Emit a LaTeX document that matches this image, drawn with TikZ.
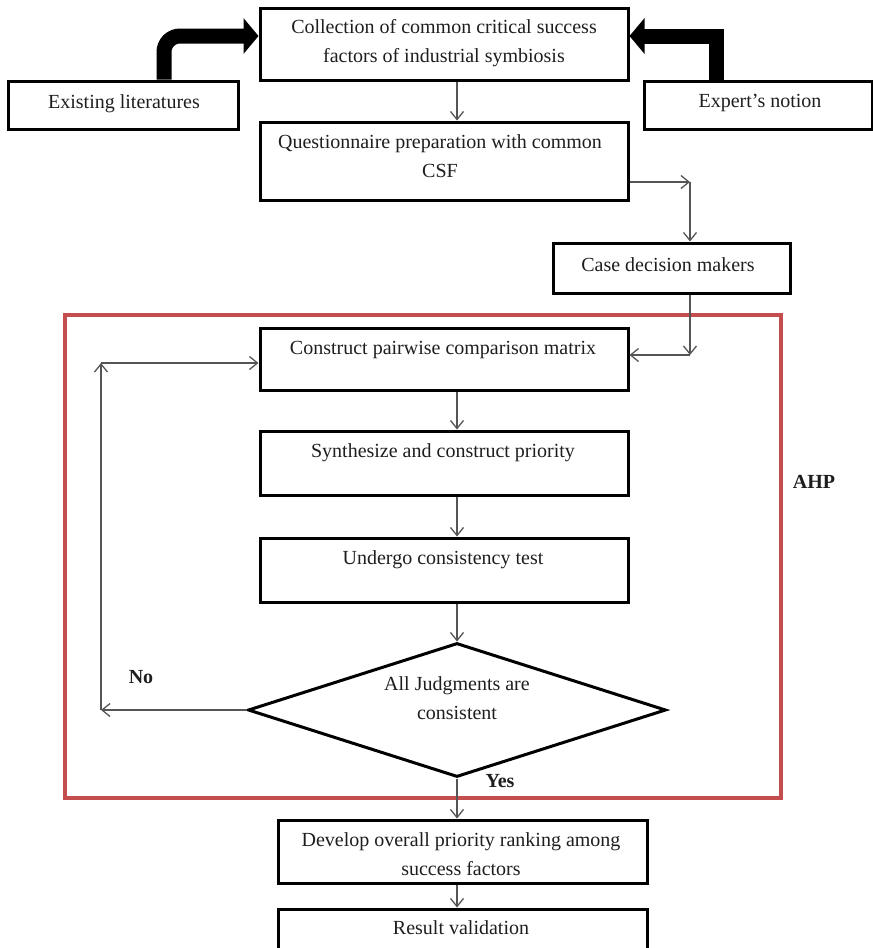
\documentclass[tikz,border=0pt]{standalone}
\usepackage{fontspec}
\setmainfont{Liberation Serif}
\usetikzlibrary{arrows.meta,shapes.geometric,calc}
\definecolor{conncol}{RGB}{85,85,85}
\definecolor{ahpred}{RGB}{196,78,78}
\definecolor{txtcol}{RGB}{30,30,30}
\begin{document}
\begin{tikzpicture}[x=1pt,y=-1pt,
  box/.style={draw=black, line width=3pt, rectangle, inner sep=0pt},
  dia/.style={draw=black, line width=3pt, diamond, aspect=3.1, inner sep=0pt},
  txt/.style={font=\fontsize{20}{29}\selectfont, text=txtcol, align=center, inner sep=0pt},
  lbl/.style={font=\fontsize{20}{24}\selectfont\bfseries, text=txtcol, inner sep=0pt},
  conn/.style={draw=conncol, line width=1.3pt, -{Straight Barb[length=8pt,width=13pt,line width=1.3pt]}},
  plainconn/.style={draw=conncol, line width=1.3pt},
  bigarrow/.style={draw=black, line width=15pt, -{Triangle[length=15pt,width=35pt]}},
  ahpframe/.style={draw=ahpred, line width=4pt, rectangle, inner sep=0pt}]
\useasboundingbox (0,0) rectangle (873,948);

% AHP frame
\node[ahpframe, minimum width=716pt, minimum height=483pt] (ahp) at (423,556.5) {};

% boxes
\node[box, minimum width=368pt, minimum height=72pt] (collect) at (444,44) {};
\node[box, minimum width=230pt, minimum height=48pt] (lit) at (123,105) {};
\node[box, minimum width=228pt, minimum height=48pt] (expert) at (758,105) {};
\node[box, minimum width=368pt, minimum height=78pt] (quest) at (444,161) {};
\node[box, minimum width=237pt, minimum height=50pt] (case) at (671.5,268) {};
\node[box, minimum width=368pt, minimum height=62pt] (construct) at (444,359) {};
\node[box, minimum width=368pt, minimum height=64pt] (synth) at (444,463) {};
\node[box, minimum width=368pt, minimum height=64pt] (test) at (444,570) {};
\node[dia, minimum width=418pt, minimum height=134pt] (judge) at (457,710) {};
\node[box, minimum width=369pt, minimum height=63pt] (develop) at (462.5,851.5) {};
\node[box, minimum width=369pt, minimum height=62pt] (result) at (462.5,940) {};

% texts
\node[txt] (tcollect) at (444,43) {Collection of common critical success\\factors of industrial symbiosis};
\node[txt] (tlit) at (124,104) {Existing literatures};
\node[txt] (texpert) at (760,103) {Expert’s notion};
\node[txt] (tquest) at (440,156) {Questionnaire preparation with common\\CSF};
\node[txt] (tcase) at (668,265) {Case decision makers};
\node[txt] (tconstruct) at (443,350) {Construct pairwise comparison matrix};
\node[txt] (tsynth) at (443,453) {Synthesize and construct priority};
\node[txt] (ttest) at (443,560) {Undergo consistency test};
\node[txt] (tjudge) at (457,698) {All Judgments are\\consistent};
\node[txt] (tdevelop) at (461,854) {Develop overall priority ranking among\\success factors};
\node[txt] (tresult) at (461,928) {Result validation};

% labels
\node[lbl] (lno) at (141,677) {No};
\node[lbl] (lyes) at (500,781) {Yes};
\node[lbl] (lahp) at (814,482) {AHP};

% thick arrows
\coordinate (la) at (164,36);
\coordinate (ra) at (716,36);
\draw[bigarrow, rounded corners=16pt] (lit.north -| la) -- (la) -- (collect.west |- la);
\draw[bigarrow, line join=miter] (expert.north -| ra) -- (ra) -- (collect.east |- ra);

% connectors
\draw[conn] (collect.south -| judge.north) -- (quest.north -| judge.north);
\coordinate (qa) at (690,182);
\draw[conn] (quest.east |- qa) -- (qa);
\draw[conn] (qa) -- (qa |- case.north);
\coordinate (cb) at (690,355);
\draw[conn] (case.south -| cb) -- (cb);
\draw[conn] (cb) -- (construct.east |- cb);
\draw[conn] (construct.south -| judge.north) -- (synth.north -| judge.north);
\draw[conn] (synth.south -| judge.north) -- (test.north -| judge.north);
\draw[conn] (test.south -| judge.north) -- (judge.north);
\coordinate (nl) at (101,710);
\coordinate (nt) at (101,363);
\draw[conn] (judge.west) -- (nl);
\draw[conn] (nl) -- (nt);
\draw[conn] (nt) -- (construct.west |- nt);
\draw[conn] (judge.south) -- (develop.north -| judge.south);
\draw[conn] (develop.south -| judge.south) -- (result.north -| judge.south);
\end{tikzpicture}
\end{document}
